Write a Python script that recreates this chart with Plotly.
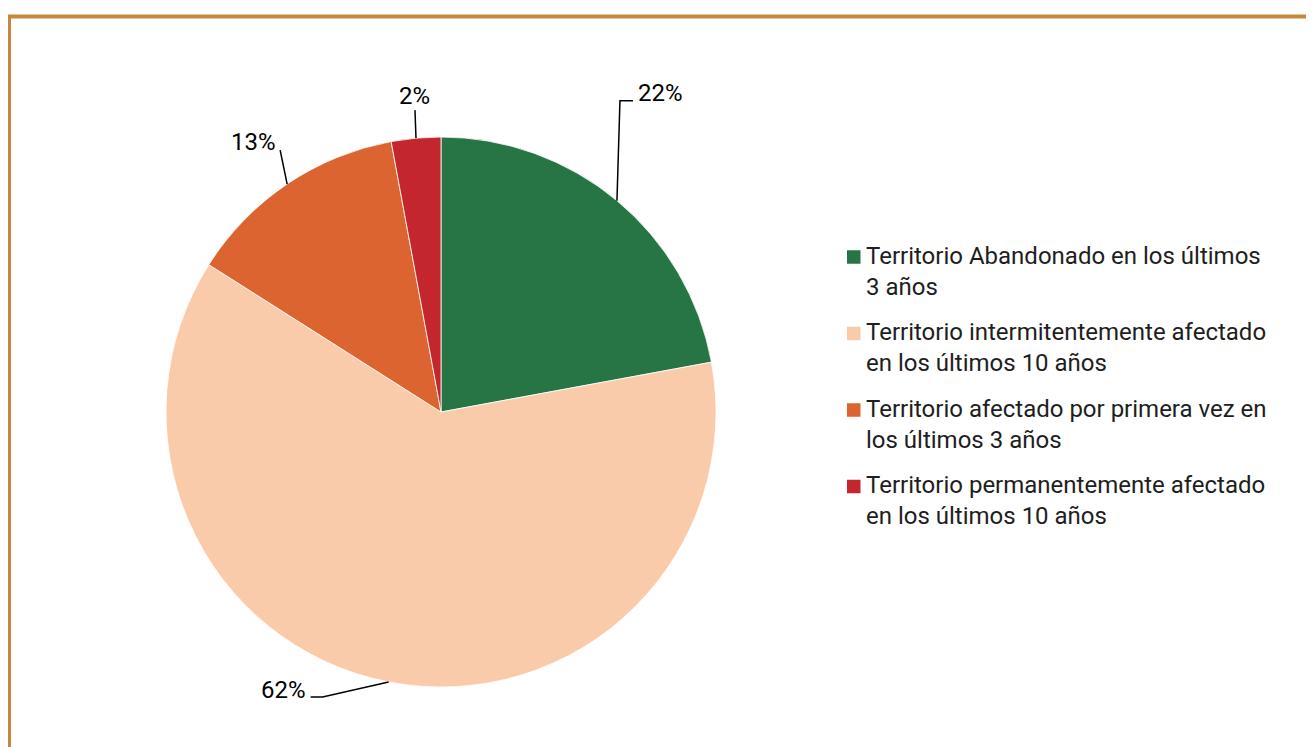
import math
import plotly.graph_objects as go

# ---- data ----
categories = [
    "Territorio Abandonado en los últimos 3 años",
    "Territorio intermitentemente afectado en los últimos 10 años",
    "Territorio afectado por primera vez en los últimos 3 años",
    "Territorio permanentemente afectado en los últimos 10 años",
]
legend_labels = [
    "Territorio Abandonado en los últimos<br>3 años",
    "Territorio intermitentemente afectado<br>en los últimos 10 años",
    "Territorio afectado por primera vez en<br>los últimos 3 años",
    "Territorio permanentemente afectado<br>en los últimos 10 años",
]
values = [22.1, 61.9, 13.1, 2.9]
value_labels = ["22%", "62%", "13%", "2%"]
colors = ["#277445", "#FACBAA", "#DC6430", "#C4262E"]

# ---- layout constants ----
OX, OY = 8, 8  # page offset of the figure
W, H = 1314 + OX, 747 + OY
FONT = "Roboto"
FS = 24


def px(x, y):
    return (x - OX) / W, 1 - (y - OY) / H


PCX, PCY, PR = 441, 412, 275
dom_x = [px(PCX - PR, 0)[0], px(PCX + PR, 0)[0]]
dom_y = [px(0, PCY + PR)[1], px(0, PCY - PR)[1]]

fig = go.Figure()
fig.add_trace(go.Pie(
    labels=categories,
    values=values,
    sort=False,
    direction="clockwise",
    rotation=0,
    textinfo="none",
    hoverinfo="label+percent",
    marker=dict(colors=colors, line=dict(color="#FFFFFF", width=0.8)),
    domain=dict(x=dom_x, y=dom_y),
    showlegend=False,
))

# pie geometry in page pixels (derived from domain)
cx = (dom_x[0] + dom_x[1]) / 2 * W + OX
cy = (1 - (dom_y[0] + dom_y[1]) / 2) * H + OY
R = min((dom_x[1] - dom_x[0]) * W, (dom_y[1] - dom_y[0]) * H) / 2

# leader-line styling offsets (elbow, end) relative to slice edge point, and label anchor
leader_style = [
    dict(elbow=(3, -100), end=(16, -100), lab=(19, -92), xa="left"),
    dict(elbow=(-66, 15), end=(-78, 15), lab=(-81, 24), xa="right"),
    dict(elbow=(-7, -34), end=(-7, -34), lab=(-9, -26), xa="right"),
    dict(elbow=(-1, -28), end=(-1, -28), lab=(-1, -26), xa="center"),
]

shapes = []
annotations = []
total = sum(values)
cum = 0.0
for v, lab, st in zip(values, value_labels, leader_style):
    mid = (cum + v / 2) / total * 2 * math.pi
    cum += v
    ex = cx + R * math.sin(mid)
    ey = cy - R * math.cos(mid)
    pts = [(ex, ey), (ex + st["elbow"][0], ey + st["elbow"][1]), (ex + st["end"][0], ey + st["end"][1])]
    path = "M " + " L ".join(f"{px(a, b)[0]},{px(a, b)[1]}" for a, b in pts)
    shapes.append(dict(type="path", xref="paper", yref="paper", path=path,
                       line=dict(color="#000000", width=1.5)))
    lx, ly = px(ex + st["lab"][0], ey + st["lab"][1])
    annotations.append(dict(x=lx, y=ly, xref="paper", yref="paper", text=lab,
                            showarrow=False, xanchor=st["xa"], yanchor="bottom",
                            font=dict(family=FONT, size=FS, color="#000000")))

# manual legend
leg_x_sq, leg_x_txt, leg_y0, leg_pitch, sq = 847, 864, 257, 76.5, 13.5
for i, (lab, col) in enumerate(zip(legend_labels, colors)):
    yc = leg_y0 + i * leg_pitch
    x0, y0 = px(leg_x_sq, yc - sq / 2)
    x1, y1 = px(leg_x_sq + sq, yc + sq / 2)
    shapes.append(dict(type="rect", xref="paper", yref="paper", x0=x0, x1=x1, y0=y0, y1=y1,
                       fillcolor=col, line=dict(width=0)))
    tx, ty = px(leg_x_txt, yc + 14)
    annotations.append(dict(x=tx, y=ty, xref="paper", yref="paper", text=lab, align="left",
                            showarrow=False, xanchor="left", yanchor="middle",
                            font=dict(family=FONT, size=FS, color="#1E1E1E")))

# frame border
bx0, by0 = px(9, 16.5)
bx1, by1 = px(W + 40, H + 40)
shapes.append(dict(type="rect", xref="paper", yref="paper", x0=bx0, y0=by0, x1=bx1, y1=by1,
                   line=dict(color="#C8873A", width=4), fillcolor="rgba(0,0,0,0)", layer="above"))

fig.update_layout(
    width=W, height=H,
    margin=dict(l=0, r=0, t=0, b=0),
    paper_bgcolor="#FFFFFF",
    plot_bgcolor="#FFFFFF",
    shapes=shapes,
    annotations=annotations,
    font=dict(family=FONT),
)

fig.write_html("out.html")
